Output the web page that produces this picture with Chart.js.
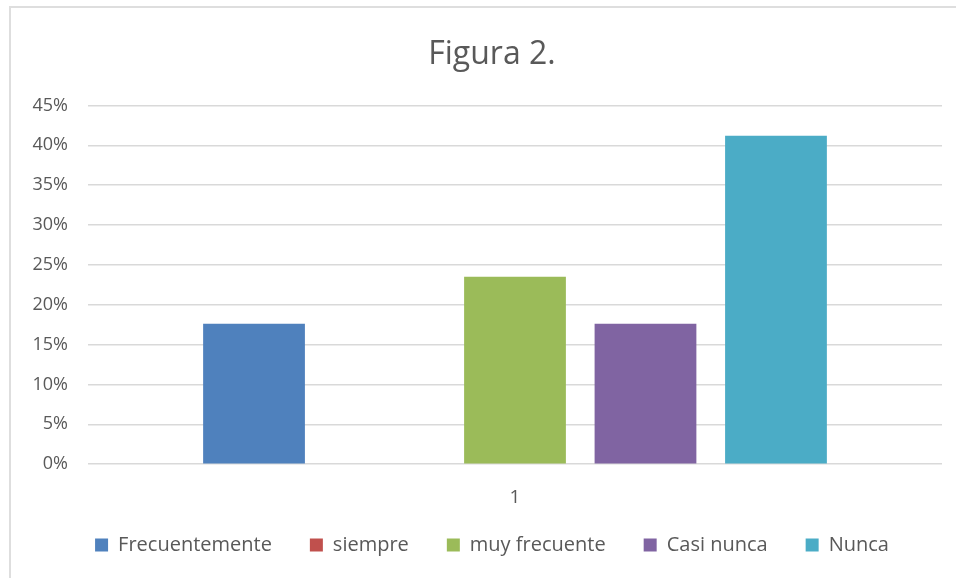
<!DOCTYPE html>
<html>
<head>
<meta charset="utf-8">
<script src="https://cdn.jsdelivr.net/npm/chart.js@4"></script>
<style>
  body { margin: 0; background: #fff; }
  #marco {
    position: absolute; left: 9px; top: 6px; right: 0; bottom: 0;
    border-top: 2px solid #dedede; border-left: 2px solid #dedede;
  }
  #grafico { position: absolute; left: 0; top: 0; }
</style>
</head>
<body>
<div id="marco"></div>
<canvas id="grafico" width="956" height="578"></canvas>
<script>
const categorias = ["1"];
const series = ["Frecuentemente", "siempre", "muy frecuente", "Casi nunca", "Nunca"];
const valores = [17.6, 0, 23.5, 17.6, 41.2];
const colores = ["#4F81BD", "#C0504D", "#9BBB59", "#8064A2", "#4BACC6"];

const fuente = "'Open Sans', sans-serif";
const gris = "#595959";

const datasets = series.map((nombre, i) => ({
  label: nombre,
  data: [valores[i]],
  backgroundColor: colores[i],
  borderWidth: 0,
  categoryPercentage: 0.764,
  barPercentage: 0.78,
}));

// los ejes se achican para colocar leyenda y area; luego se les devuelve el hueco para que no recorten las etiquetas
const ajusteEjes = {
  id: "ajusteEjes",
  afterLayout(chart) {
    chart.scales.y.left -= 30;
    chart.scales.x.bottom += 24;
  },
};

new Chart(document.getElementById("grafico"), {
  type: "bar",
  data: { labels: categorias, datasets: datasets },
  plugins: [ajusteEjes],
  options: {
    responsive: false,
    animation: false,
    layout: { padding: { top: 6, left: 42, right: 14, bottom: 13 } },
    plugins: {
      title: {
        display: true,
        text: "Figura 2.",
        color: gris,
        font: { family: fuente, size: 32, weight: "normal" },
        padding: { top: 30, bottom: 31 },
      },
      legend: {
        position: "bottom",
        labels: {
          color: gris,
          font: { family: fuente, size: 20 },
          boxWidth: 13,
          boxHeight: 13,
          padding: 38,
        },
      },
      tooltip: { enabled: false },
    },
    scales: {
      x: {
        grid: { display: false },
        border: { display: false },
        ticks: { color: gris, font: { family: fuente, size: 19 }, padding: 14 },
        afterFit: (scale) => { scale.height -= 26; },
      },
      y: {
        min: 0,
        max: 45,
        ticks: {
          stepSize: 5,
          color: gris,
          font: { family: fuente, size: 18 },
          padding: 20,
          callback: (v) => v + "%",
        },
        grid: { color: "#d9d9d9", lineWidth: 1.5, drawTicks: false },
        border: { display: false },
        afterFit: (scale) => { scale.width = 46; },
      },
    },
  },
});
</script>
</body>
</html>
